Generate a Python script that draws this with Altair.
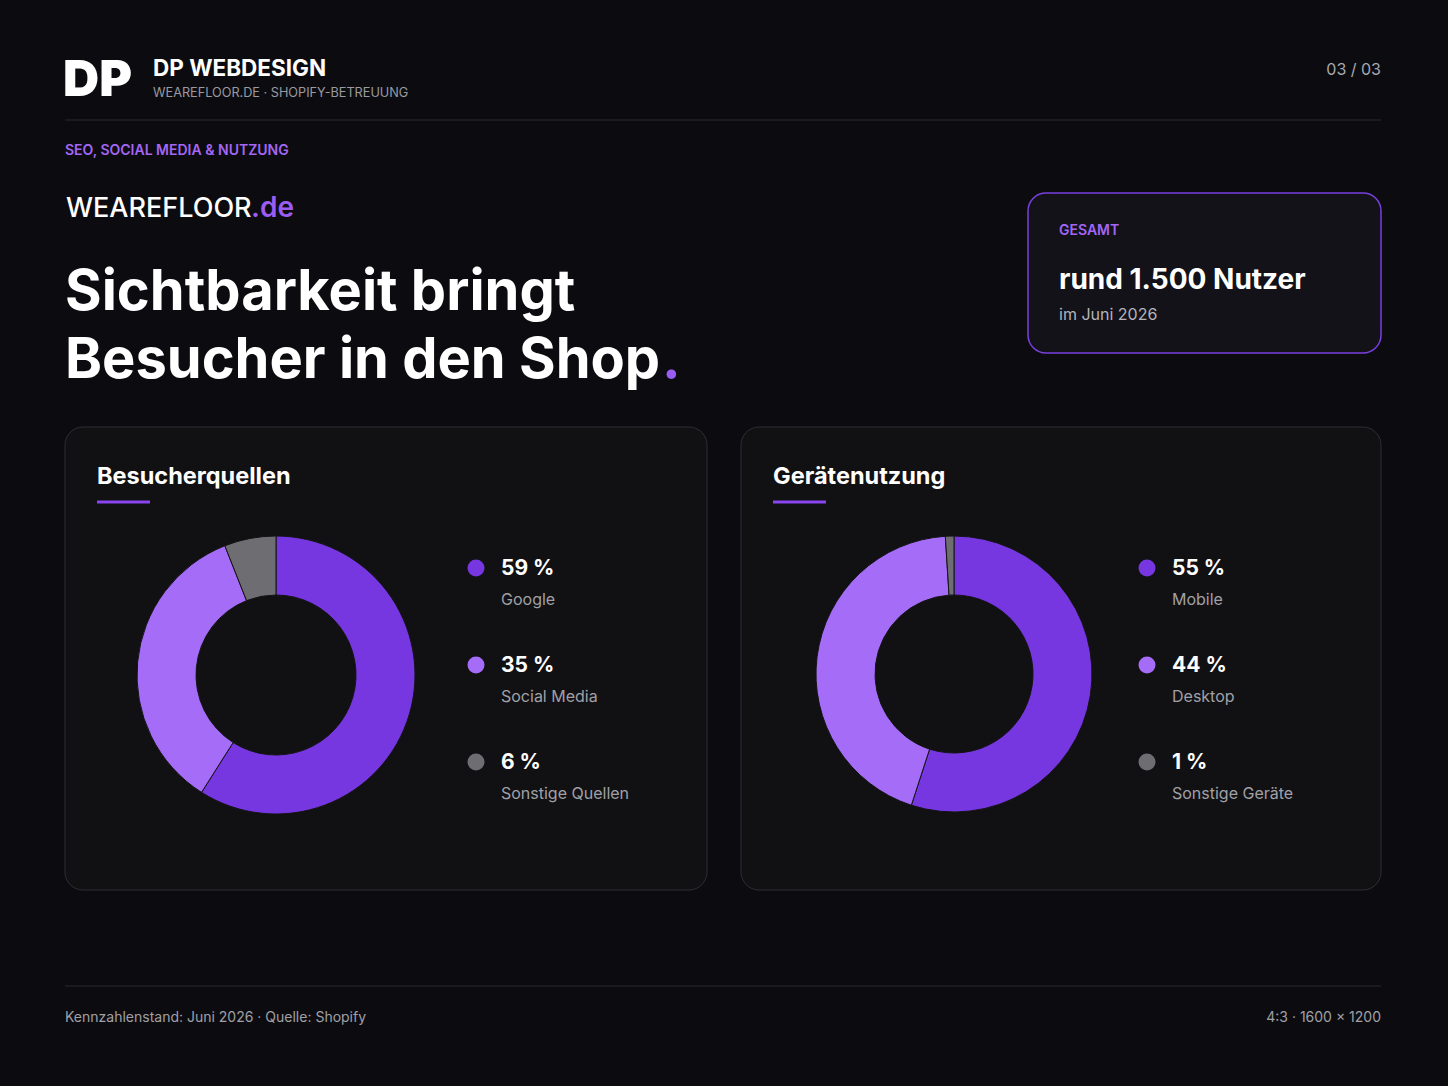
import altair as alt
import pandas as pd

# ---- data ----
src_names = ["Google", "Social Media", "Sonstige Quellen"]
src_values = [59, 35, 6]
dev_names = ["Mobile", "Desktop", "Sonstige Geräte"]
dev_values = [55, 44, 1]
tones = ["primary", "secondary", "other"]
tone_colors = ["#7636e0", "#a56cf7", "#6e6e72"]

W, H = 1448, 1086
FONT = "Inter"
BG = "#0c0c10"
CARD = "#111114"

def mk(names, values):
    return pd.DataFrame({
        "name": names,
        "value": values,
        "pct": [f"{v} %" for v in values],
        "tone": tones,
        "rank": list(range(len(names))),
    })

src = mk(src_names, src_values)
dev = mk(dev_names, dev_values)

color = alt.Color("tone:N", scale=alt.Scale(domain=tones, range=tone_colors), legend=None)
one = pd.DataFrame({"a": [0]})

def txt(t, x, y, size, color="#ffffff", weight="normal", align="left", baseline="alphabetic", font=FONT):
    return alt.Chart(one).mark_text(
        text=t, font=font, fontSize=size, fontWeight=weight, color=color,
        align=align, baseline=baseline
    ).encode(x=alt.value(x), y=alt.value(y))

def box(x1, x2, y1, y2, fill, stroke, r=18, sw=1):
    return alt.Chart(one).mark_rect(
        fill=fill, stroke=stroke, strokeWidth=sw, cornerRadius=r
    ).encode(x=alt.value(x1), x2=alt.value(x2), y=alt.value(y1), y2=alt.value(y2))

def hline(x1, x2, y, c="#2a2a2f", w=1):
    return alt.Chart(one).mark_rule(color=c, strokeWidth=w).encode(
        x=alt.value(x1), x2=alt.value(x2), y=alt.value(y))

def donut(df, cx, cy, ro, ri):
    return alt.Chart(df).mark_arc(
        outerRadius=ro, innerRadius=ri, stroke="#141416", strokeWidth=1
    ).encode(
        x=alt.value(cx), y=alt.value(cy),
        theta=alt.Theta("value:Q", stack=True),
        order=alt.Order("rank:Q"),
        color=color,
    )

yrank = alt.Y("rank:Q", scale=alt.Scale(domain=[0, 2], range=[568, 762]), axis=None)

def legend(df, x):
    dots = alt.Chart(df).mark_circle(size=290, opacity=1).encode(
        x=alt.value(x), y=yrank, color=color)
    pcts = alt.Chart(df).mark_text(
        font=FONT, fontSize=21, fontWeight="bold", color="#ffffff",
        align="left", baseline="middle", dy=1
    ).encode(x=alt.value(x + 25), y=yrank, text="pct:N")
    labels = alt.Chart(df).mark_text(
        font=FONT, fontSize=16, color="#a0a0a6", align="left", baseline="middle", dy=32
    ).encode(x=alt.value(x + 25), y=yrank, text="name:N")
    return [dots, pcts, labels]

layers = [
    # header
    txt("DP", 63, 96, 50, weight=900),
    txt("DP WEBDESIGN", 153, 76, 22.5, weight="bold"),
    txt("WEAREFLOOR.DE · SHOPIFY-BETREUUNG", 153, 97, 12.7, color="#9a9aa0"),
    txt("03 / 03", 1381, 75, 16, color="#a8a8ae", align="right"),
    hline(65, 1381, 120),
    txt("SEO, SOCIAL MEDIA & NUTZUNG", 65, 155, 14, color="#a466f5", weight=600),
    txt("WEAREFLOOR", 66, 217, 27, weight=500),
    txt(".de", 251, 217, 28, color="#9a5cf2", weight=600),
    txt("Sichtbarkeit bringt", 65, 310, 56, weight="bold"),
    txt("Besucher in den Shop", 65, 378, 56, weight="bold"),
    txt(".", 662, 378, 56, color="#9a5cf2", weight="bold"),
    # KPI box
    box(1028, 1381, 193, 353, "#131219", "#7a3fe0", r=18, sw=1.5),
    txt("GESAMT", 1059, 235, 14, color="#a466f5", weight=600),
    txt("rund 1.500 Nutzer", 1059, 289, 28, weight="bold"),
    txt("im Juni 2026", 1059, 320, 16, color="#b4b4ba"),
    # cards
    box(65, 707, 427, 890, CARD, "#2e2e33"),
    box(741, 1381, 427, 890, CARD, "#2e2e33"),
    txt("Besucherquellen", 97, 484, 23.5, weight="bold"),
    hline(97, 150, 502, c="#8a45f0", w=3),
    txt("Gerätenutzung", 773, 484, 23.5, weight="bold"),
    hline(773, 826, 502, c="#8a45f0", w=3),
    donut(src, 276, 675, 139, 80),
    donut(dev, 954, 674, 138, 79),
    *legend(src, 476),
    *legend(dev, 1147),
    # footer
    hline(65, 1381, 986),
    txt("Kennzahlenstand: Juni 2026 · Quelle: Shopify", 65, 1022, 14, color="#a0a0a6"),
    txt("4:3 · 1600 × 1200", 1381, 1022, 14, color="#a0a0a6", align="right"),
]

chart = alt.layer(*layers).properties(
    width=W, height=H, background=BG, padding=0,
    autosize=alt.AutoSizeParams(type="none"),
).configure_view(stroke=None)

chart.save("out.html", embed_options={"renderer": "svg", "actions": False})
